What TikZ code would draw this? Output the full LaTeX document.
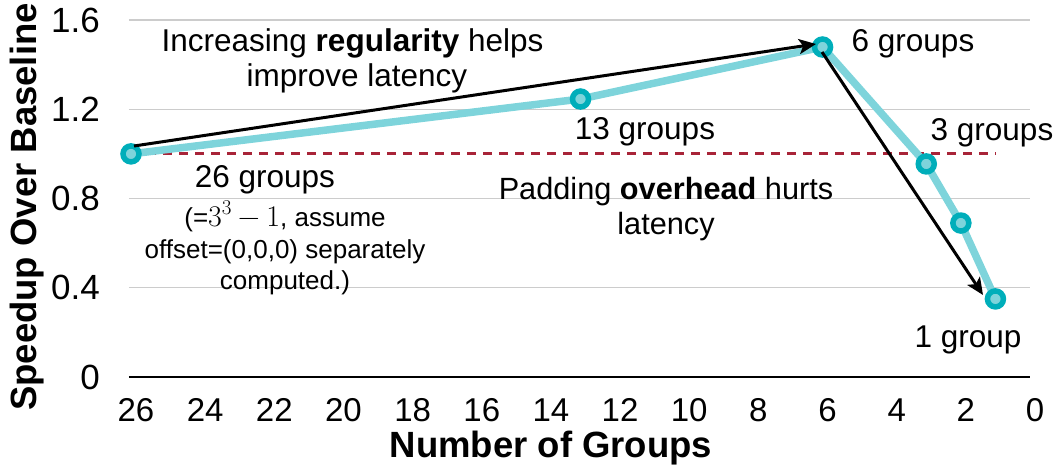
\documentclass[tikz,border=0pt]{standalone}
\usepackage{fontspec}
\setmainfont{Liberation Sans}
\newfontfamily\lmr{Latin Modern Roman}
\usetikzlibrary{arrows.meta}

\definecolor{seriesline}{RGB}{126,212,219}
\definecolor{seriesring}{RGB}{0,174,186}
\definecolor{refline}{RGB}{168,36,56}
\definecolor{gridgray}{RGB}{204,204,204}

% 3^3 - 1 set in a serif, like TeX math
\newcommand{\cubeminusone}{{\lmr\fontsize{30}{30}\selectfont 3\raisebox{0.4em}{\fontsize{21}{21}\selectfont 3}\hspace{0.22em}−\hspace{0.22em}1}}

\begin{document}
\begin{tikzpicture}[x=1pt,y=1pt,
  every node/.style={inner sep=0pt, outer sep=0pt},
  xticklabel/.style={font=\fontsize{33}{33}\selectfont},
  yticklabel/.style={font=\fontsize{35}{35}\selectfont},
  axistitle/.style={font=\bfseries\fontsize{36.5}{36.5}\selectfont},
  note/.style={font=\fontsize{31.5}{35}\selectfont, align=center},
  smallnote/.style={font=\fontsize{26}{31.5}\selectfont, align=center},
  datalabel/.style={font=\fontsize{31.5}{31.5}\selectfont},
  marker/.style={circle, draw=seriesring, line width=5.5pt, fill=seriesline, minimum size=16pt, inner sep=0pt},
  trend/.style={-{Stealth[length=17pt,width=15pt,inset=4pt]}, line width=3pt, black}
]
\useasboundingbox (0,0) rectangle (1057,469);

% plot area: x runs from 26 groups (left) down to 0 groups (right)
\begin{scope}[x=-34.577pt, y=223.1pt, shift={(1030pt,92pt)}]
  % horizontal gridlines and the x axis
  \foreach \v in {0.4,0.8,1.2,1.6}
    \draw[gridgray, line width=1.3pt] (26.06,\v) -- (0,\v);
  \draw[black, line width=1.3pt] (26.06,0) -- (0,0);

  % tick labels
  \foreach \g in {26,24,...,0}
    \node[xticklabel] (xt\g) at ([xshift=5pt]\g,-0.148) {\g};
  \foreach \v/\t in {0/0,0.4/0.4,0.8/0.8,1.2/1.2,1.6/1.6}
    \node[yticklabel, anchor=east] (yt\t) at (26.9,\v) {\t};

  % baseline speedup = 1
  \draw[refline, line width=3.2pt, dash pattern=on 9pt off 7pt] (26,1) -- (1,1);

  % measured speedups
  \coordinate (p26) at (26,1.0);
  \coordinate (p13) at (13,1.246);
  \coordinate (p6)  at (6,1.479);
  \coordinate (p3)  at (3,0.955);
  \coordinate (p2)  at (2,0.69);
  \coordinate (p1)  at (1,0.35);
  \draw[seriesline, line width=7.5pt, line join=round]
    (p26) -- (p13) -- (p6) -- (p3) -- (p2) -- (p1);
  \foreach \p in {p26,p13,p6,p3,p2,p1}
    \node[marker] (m\p) at (\p) {};
\end{scope}

% axis titles
\node[axistitle, anchor=base] (xtitle) at (551,12) {Number of Groups};
\node[axistitle, anchor=base, rotate=90] (ytitle) at (36,262) {Speedup Over Baseline};

% trend arrows
\coordinate (a1s) at (134,323);
\coordinate (a1e) at (816,425);
\coordinate (a2s) at (822,417);
\coordinate (a2e) at (983,174);
\draw[trend] (a1s) -- (a1e);
\draw[trend] (a2s) -- (a2e);

% point labels
\node[datalabel] (l26) at (265,289) {26 groups};
\node[smallnote] (l26note) at (285,221) {(=\cubeminusone, assume\\offset=(0,0,0) separately\\computed.)};
\node[datalabel] (l13) at (645,337) {13 groups};
\node[datalabel] (l6)  at (913,425) {6 groups};
\node[datalabel] (l3)  at (992,336) {3 groups};
\node[datalabel] (l1)  at (968,129) {1 group};

% annotations
\node[note] (regular) at (357,408) {Increasing \textbf{regularity} helps\hspace*{9pt}\\improve latency};
\node[note, font=\fontsize{30.7}{35}\selectfont] (padding) at (666,260) {Padding \textbf{overhead} hurts\\latency};
\end{tikzpicture}
\end{document}
